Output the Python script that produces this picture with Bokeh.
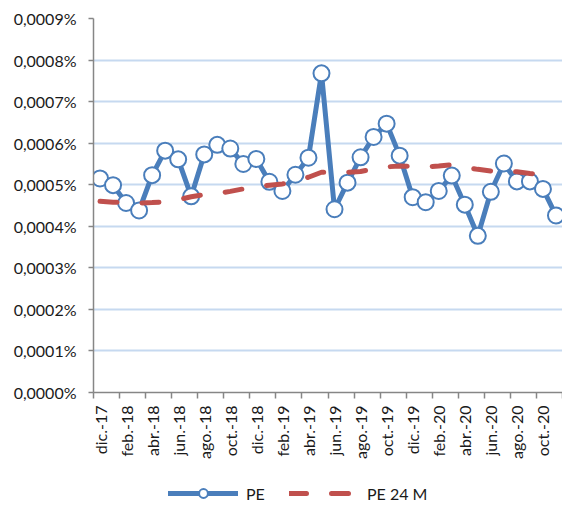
from bokeh.plotting import figure
from bokeh.layouts import column
from bokeh.models import (Range1d, FixedTicker, CustomJSTickFormatter, Legend,
                          LegendItem, ColumnDataSource)
from bokeh.embed import file_html
from bokeh.resources import INLINE
from math import pi

months = ["dic.-17", "ene.-18", "feb.-18", "mar.-18", "abr.-18", "may.-18",
          "jun.-18", "jul.-18", "ago.-18", "sep.-18", "oct.-18", "nov.-18",
          "dic.-18", "ene.-19", "feb.-19", "mar.-19", "abr.-19", "may.-19",
          "jun.-19", "jul.-19", "ago.-19", "sep.-19", "oct.-19", "nov.-19",
          "dic.-19", "ene.-20", "feb.-20", "mar.-20", "abr.-20", "may.-20",
          "jun.-20", "jul.-20", "ago.-20", "sep.-20", "oct.-20", "nov.-20"]

# values in percent
pe = [0.000515, 0.000499, 0.000456, 0.000438, 0.000523, 0.000582,
      0.000561, 0.000472, 0.000573, 0.000596, 0.000587, 0.000550,
      0.000562, 0.000507, 0.000485, 0.000524, 0.000565, 0.000768,
      0.000441, 0.000505, 0.000566, 0.000615, 0.000647, 0.000570,
      0.000470, 0.000458, 0.000485, 0.000522, 0.000452, 0.000377,
      0.000483, 0.000551, 0.000508, 0.000508, 0.000490, 0.000426]

pe24 = [0.000460, 0.000458, 0.000457, 0.000456, 0.000457, 0.000459,
        0.000464, 0.000471, 0.000476, 0.000479, 0.000484, 0.000490,
        0.000496, 0.000499, 0.000502, 0.000508, 0.000518, 0.000530,
        0.000530, 0.000530, 0.000532, 0.000538, 0.000543, 0.000545,
        0.000544, 0.000543, 0.000545, 0.000548, 0.000542, 0.000537,
        0.000533, 0.000534, 0.000531, 0.000527, 0.000525, 0.000523]

y_ticks = [0.0, 0.0001, 0.0002, 0.0003, 0.0004, 0.0005, 0.0006, 0.0007,
           0.0008, 0.0009]
x_label_idx = list(range(0, 36, 2))
x_tick_bounds = [i - 0.5 for i in range(0, 37, 2)]

src = ColumnDataSource(dict(x=list(range(len(months))), pe=pe, pe24=pe24))

p = figure(width=562, height=470, output_backend="svg", toolbar_location=None,
           x_range=Range1d(-0.5, 35.5), y_range=Range1d(0, 0.0009),
           min_border_left=93, min_border_right=0, min_border_top=18,
           min_border_bottom=78)
p.outline_line_color = None
p.background_fill_color = "white"
p.border_fill_color = "white"

axis_col = "#868686"
txt_col = "#1a1a1a"

# y axis
p.yaxis.ticker = FixedTicker(ticks=y_ticks, minor_ticks=[])
p.yaxis.formatter = CustomJSTickFormatter(
    code="return tick.toFixed(4).replace('.', ',') + '%';")
p.yaxis.axis_line_color = axis_col
p.yaxis.axis_line_width = 1.5
p.yaxis.major_tick_line_color = axis_col
p.yaxis.major_tick_line_width = 1.5
p.yaxis.major_tick_out = 5
p.yaxis.major_tick_in = 0
p.yaxis.major_label_standoff = 12
p.yaxis.major_label_text_font = "Lato"
p.yaxis.major_label_text_font_size = "16px"
p.yaxis.major_label_text_color = txt_col

# x axis
p.xaxis.ticker = FixedTicker(ticks=x_label_idx, minor_ticks=x_tick_bounds)
p.xaxis.formatter = CustomJSTickFormatter(
    args=dict(labels=months),
    code="var i = Math.round(tick); return labels[i] || '';")
p.xaxis.major_label_orientation = pi / 2
p.xaxis.axis_line_color = axis_col
p.xaxis.axis_line_width = 1.5
p.xaxis.major_tick_line_color = None
p.xaxis.major_tick_out = 6
p.xaxis.major_tick_in = 0
p.xaxis.minor_tick_line_color = axis_col
p.xaxis.minor_tick_line_width = 1.5
p.xaxis.minor_tick_out = 6
p.xaxis.minor_tick_in = 0
p.xaxis.major_label_standoff = 7
p.xaxis.major_label_text_font = "Lato"
p.xaxis.major_label_text_font_size = "16px"
p.xaxis.major_label_text_color = txt_col

# grid
p.xgrid.visible = False
p.ygrid.ticker = FixedTicker(ticks=y_ticks)
p.ygrid.grid_line_color = "#c6d9f0"
p.ygrid.grid_line_width = 2

blue = "#4a7ebb"
red = "#c0504d"


def draw_series(fig):
    a = fig.line("x", "pe", source=src, line_color=blue, line_width=5,
                 line_join="round", line_cap="round")
    b = fig.scatter("x", "pe", source=src, marker="circle", size=16,
                    fill_color="white", line_color=blue, line_width=2)
    c = fig.line("x", "pe24", source=src, line_color=red, line_width=5,
                 line_dash="17 25", line_cap="round")
    return a, b, c


draw_series(p)

# legend strip below the chart: same series, view range kept off the data
lg = figure(width=562, height=36, output_backend="svg", toolbar_location=None,
            x_range=Range1d(1000, 1001), y_range=Range1d(1000, 1001),
            x_axis_location=None, y_axis_location=None,
            min_border_left=0, min_border_right=0, min_border_top=0,
            min_border_bottom=0)
lg.grid.visible = False
lg.outline_line_color = None
lg.background_fill_color = "white"
lg.border_fill_color = "white"
g1, g2, g3 = draw_series(lg)
legend = Legend(items=[LegendItem(label="PE", renderers=[g1, g2]),
                       LegendItem(label="PE 24 M", renderers=[g3])],
                location=(75, 2), orientation="horizontal",
                glyph_width=70, glyph_height=22, label_standoff=8,
                spacing=23, padding=0, margin=0,
                border_line_color=None, background_fill_alpha=0,
                label_text_font="Lato", label_text_font_size="16px",
                label_text_color=txt_col)
lg.add_layout(legend, "center")

layout = column(p, lg, spacing=0)
open("out.html", "w").write(file_html(layout, INLINE))
